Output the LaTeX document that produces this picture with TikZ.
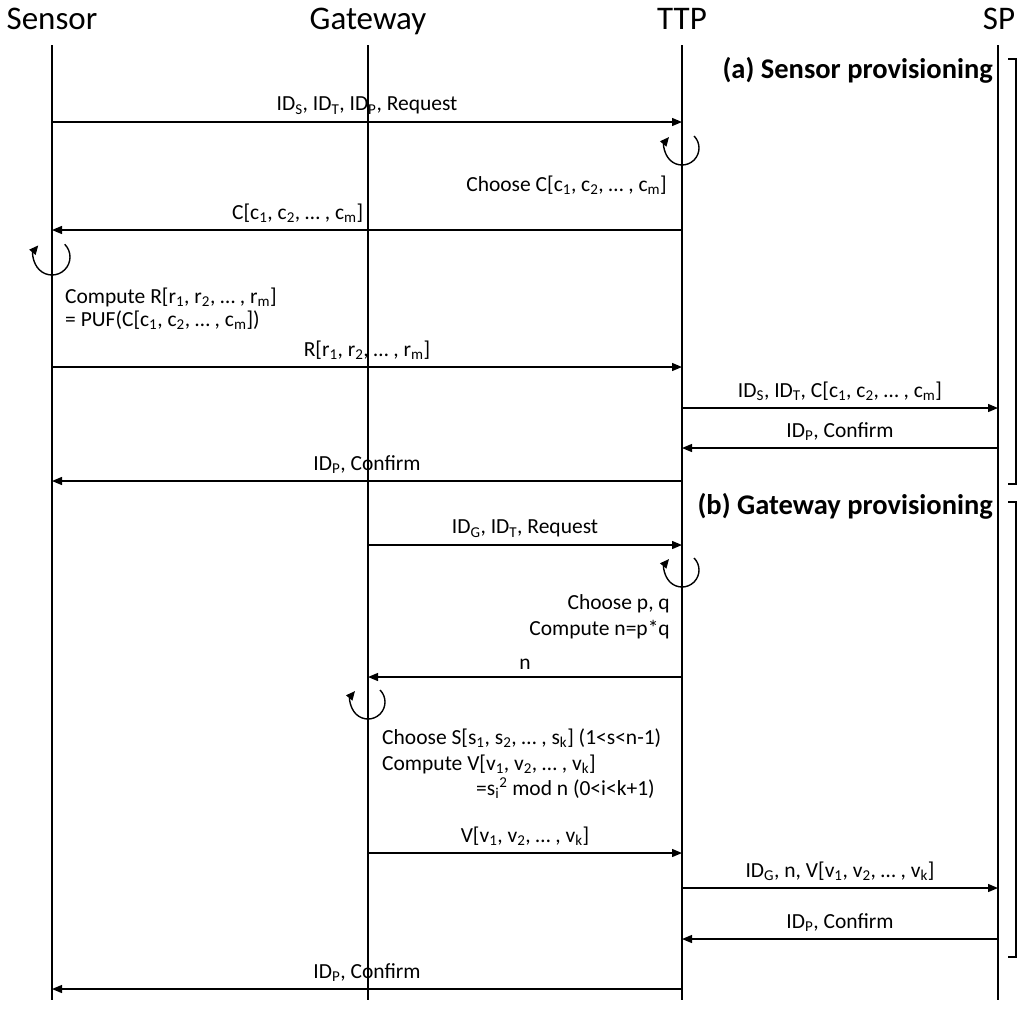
\documentclass[tikz,border=0pt]{standalone}
\usepackage{fontspec}
\setmainfont{Carlito}
\usetikzlibrary{arrows.meta}
\newcommand{\sbs}[1]{\textsubscript{#1}}

\begin{document}
\begin{tikzpicture}[x=1pt,y=-1pt,
  head/.style={font=\fontsize{33}{36}\selectfont,inner sep=0pt,anchor=base},
  phase/.style={font=\fontsize{28.5}{31}\selectfont\bfseries,inner sep=0pt,anchor=east},
  txt/.style={font=\fontsize{21.5}{24}\selectfont,inner sep=0pt},
  lbl/.style={txt,above=7pt},
  life/.style={line width=1.2pt},
  msg/.style={-{Triangle[length=10pt,width=8pt]},line width=1.3pt},
  selfloop/.style={-{Triangle[length=9pt,width=8pt]},line width=1.4pt}]
  \useasboundingbox (0,0) rectangle (1024,1010);
  % participants
  \node[head] (sensor) at (52,29) {Sensor};
  \node[head] (gateway) at (368,29) {Gateway};
  \node[head] (ttp) at (682,29) {TTP};
  \node[head] (sp) at (999,29) {SP};
  \foreach \l/\x in {S/52,G/368,T/682,P/998} {
    \coordinate (\l top) at (\x,45);
    \coordinate (\l bot) at (\x,1000);
    \draw[life] (\l top) -- (\l bot);
  }
  % message rows
  \foreach \n/\y in {1/122,2/230,3/367,4/408,5/448,6/481,7/545,8/677,9/853,10/888,11/939,12/989}
    \foreach \l/\x in {S/52,G/368,T/682,P/998}
      \coordinate (\l\n) at (\x,\y);
  \coordinate (loopA) at (682,148);
  \coordinate (loopB) at (52,257);
  \coordinate (loopC) at (682,570);
  \coordinate (loopD) at (368,702);
  % (a) sensor provisioning
  \node[phase] (pa) at (993,70) {(a) Sensor provisioning};
  \draw[line width=1.3pt] (1008,59) -- (1016,59) -- (1016,484) -- (1008,484);
  \draw[msg] (S1) -- node[lbl] {ID\sbs{S}, ID\sbs{T}, ID\sbs{P}, Request} (T1);
  \draw[selfloop] (loopA) ++(-45:17) arc[start angle=-45,end angle=220,radius=17];
  \node[txt,anchor=east] (chooseC) at (667,185) {Choose C[c\sbs{1}, c\sbs{2}, … , c\sbs{m}]};
  \draw[msg] (T2) -- node[lbl,pos=0.61] {C[c\sbs{1}, c\sbs{2}, … , c\sbs{m}]} (S2);
  \draw[selfloop] (loopB) ++(-45:18) arc[start angle=-45,end angle=220,radius=18];
  \node[txt,anchor=west] (computeR) at (65,297) {Compute R[r\sbs{1}, r\sbs{2}, … , r\sbs{m}]};
  \node[txt,anchor=west] (puf) at (65,320) {= PUF(C[c\sbs{1}, c\sbs{2}, … , c\sbs{m}])};
  \draw[msg] (S3) -- node[lbl] {R[r\sbs{1}, r\sbs{2}, … , r\sbs{m}]} (T3);
  \draw[msg] (T4) -- node[lbl] {ID\sbs{S}, ID\sbs{T}, C[c\sbs{1}, c\sbs{2}, … , c\sbs{m}]} (P4);
  \draw[msg] (P5) -- node[lbl] {ID\sbs{P}, Confirm} (T5);
  \draw[msg] (T6) -- node[lbl] {ID\sbs{P}, Confirm} (S6);
  % (b) gateway provisioning
  \node[phase] (pb) at (993,506) {(b) Gateway provisioning};
  \draw[line width=1.3pt] (1008,502) -- (1016,502) -- (1016,957) -- (1008,957);
  \draw[msg] (G7) -- node[lbl] {ID\sbs{G}, ID\sbs{T}, Request} (T7);
  \draw[selfloop] (loopC) ++(-45:17) arc[start angle=-45,end angle=220,radius=17];
  \node[txt,anchor=east] (choosePQ) at (670,604) {Choose p, q};
  \node[txt,anchor=east] (computeN) at (670,630) {Compute n=p*q};
  \draw[msg] (T8) -- node[lbl] {n} (G8);
  \draw[selfloop] (loopD) ++(-45:17) arc[start angle=-45,end angle=220,radius=17];
  \node[txt,anchor=west] (chooseS) at (382,738) {Choose S[s\sbs{1}, s\sbs{2}, … , s\sbs{k}] (1<s<n-1)};
  \node[txt,anchor=west] (computeV) at (382,764) {Compute V[v\sbs{1}, v\sbs{2}, … , v\sbs{k}]};
  \node[txt,anchor=west] (modn) at (476,788) {=s\sbs{i}\textsuperscript{2} mod n (0<i<k+1)};
  \draw[msg] (G9) -- node[lbl] {V[v\sbs{1}, v\sbs{2}, … , v\sbs{k}]} (T9);
  \draw[msg] (T10) -- node[lbl] {ID\sbs{G}, n, V[v\sbs{1}, v\sbs{2}, … , v\sbs{k}]} (P10);
  \draw[msg] (P11) -- node[lbl] {ID\sbs{P}, Confirm} (T11);
  \draw[msg] (T12) -- node[lbl] {ID\sbs{P}, Confirm} (S12);
\end{tikzpicture}
\end{document}
